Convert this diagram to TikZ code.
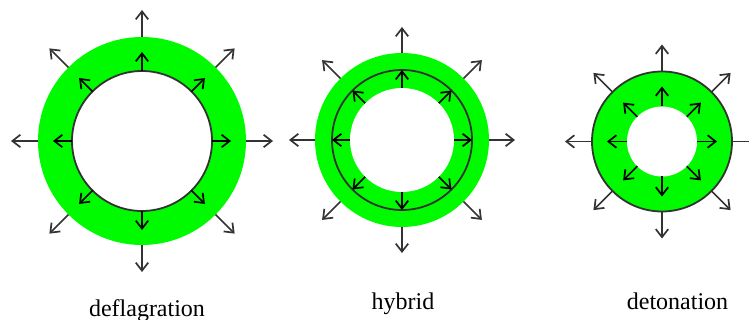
\documentclass[tikz,border=0pt]{standalone}
\usepackage{fontspec}
\setmainfont{Liberation Serif}
\usetikzlibrary{arrows.meta,calc}
\definecolor{flame}{RGB}{0,250,0}
\tikzset{
  ray/.style={line width=1.7pt, draw=black!80, -{Straight Barb[length=8pt,width=12.5pt,line width=1.7pt]}},
  inray/.style={ray, draw=black},
  rim/.style={line width=1.8pt, draw=black!80},
  caption/.style={anchor=base, font=\fontsize{24}{28}\selectfont}
}
\begin{document}
\begin{tikzpicture}[x=1pt,y=-1pt]
\useasboundingbox (0,0) rectangle (749,320);
\clip (0,0) rectangle (749,320);

% deflagration: thick burning shell around the unburnt core
\coordinate (dc) at (142,141);
\fill[flame] (dc) circle (104);
\fill[white] (dc) circle (70);
\draw[rim] (dc) circle (70);
\foreach \a in {0,45,...,315}{
  \draw[inray] ($(dc)+(\a:70)$) -- ($(dc)+(\a:89)$);
  \draw[ray] ($(dc)+(\a:104)$) -- ($(dc)+(\a:131)$);
}
\node[caption] (ldef) at (147,316) {deflagration};

% hybrid: front inside the shell
\coordinate (hc) at (402,140);
\fill[flame] (hc) circle (87);
\fill[white] (hc) circle (52);
\draw[rim] (hc) circle (70);
\foreach \a in {0,45,...,315}{
  \draw[inray] ($(hc)+(\a:52)$) -- ($(hc)+(\a:70)$);
  \draw[ray] ($(hc)+(\a:87)$) -- ($(hc)+(\a:113)$);
}
\node[caption] (lhyb) at (403,309) {hybrid};

% detonation: front at the outer edge
\coordinate (tc) at (662,141.5);
\fill[flame] (tc) circle (70);
\draw[rim] (tc) circle (70);
\fill[white] (tc) circle (35);
\foreach \a in {0,45,...,315}{
  \draw[inray] ($(tc)+(\a:35)$) -- ($(tc)+(\a:55)$);
  \draw[ray] ($(tc)+(\a:70)$) -- ($(tc)+(\a:97)$);
}
\node[caption] (ldet) at (677.5,309) {detonation};
\end{tikzpicture}
\end{document}
